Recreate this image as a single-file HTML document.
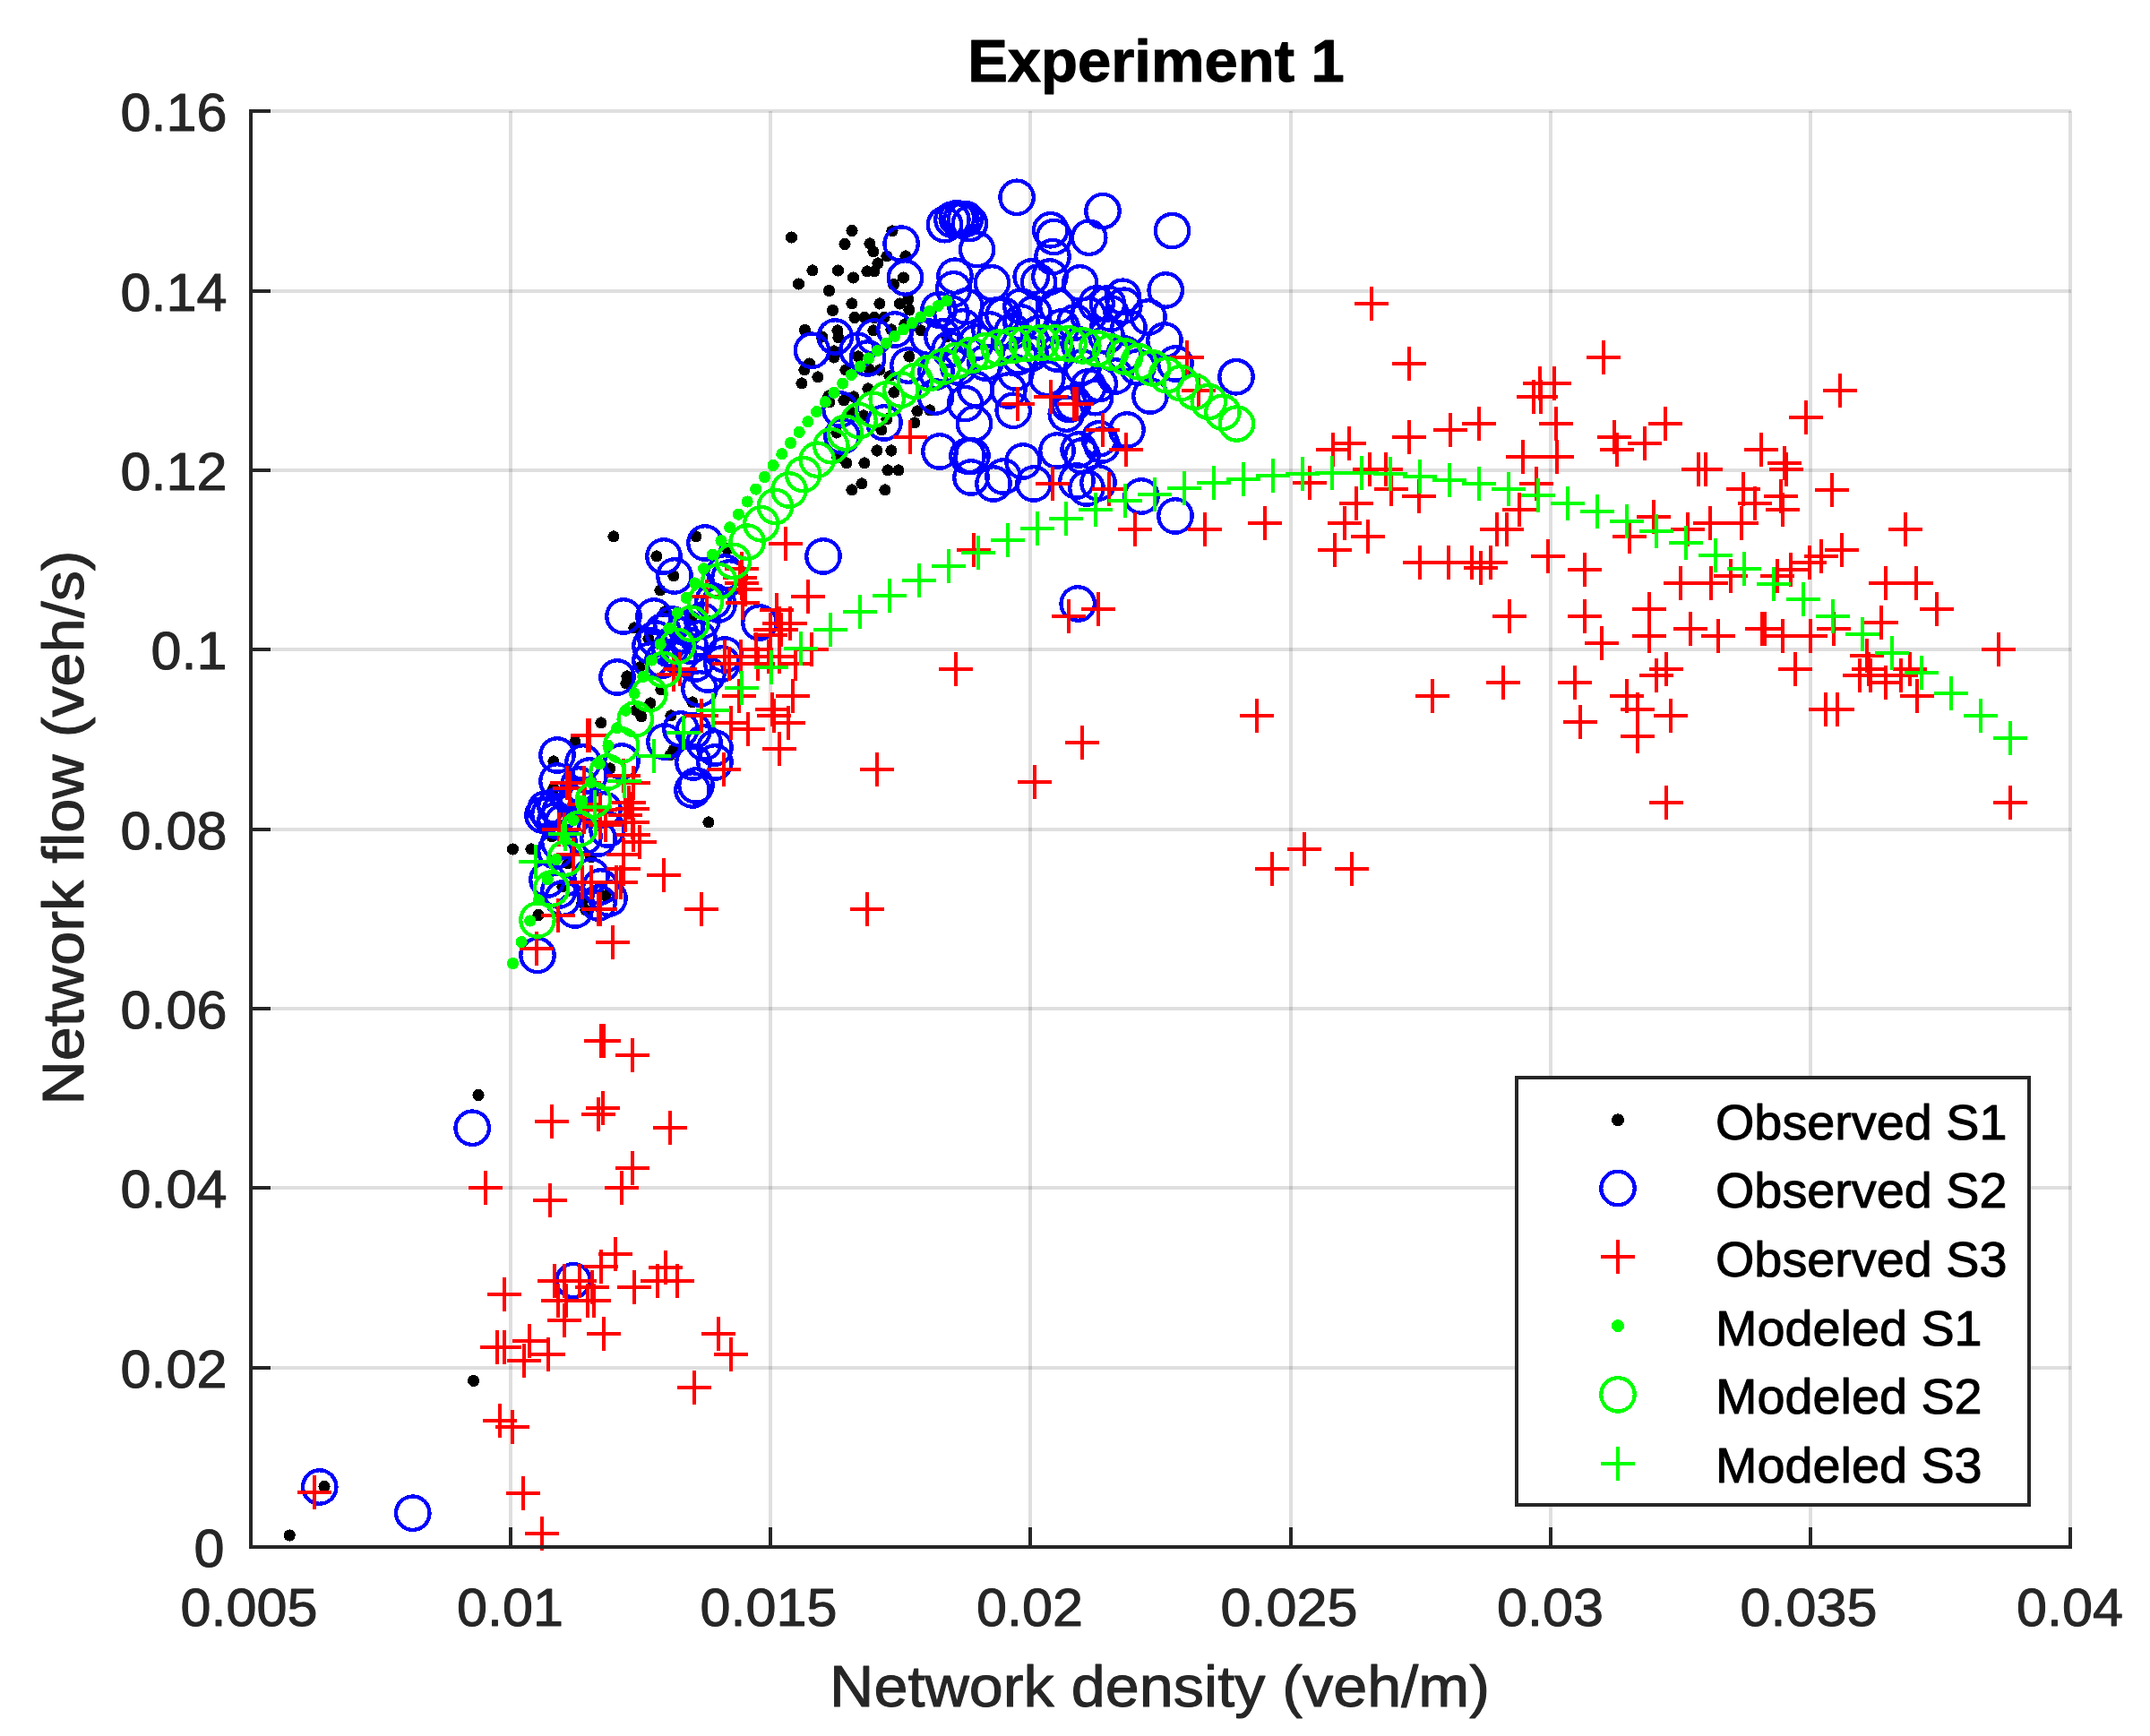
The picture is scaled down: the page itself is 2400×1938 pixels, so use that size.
<!DOCTYPE html><html><head><meta charset="utf-8"><title>Experiment 1</title>
<style>html,body{margin:0;padding:0;background:#fff}svg{display:block}text{font-family:"Liberation Sans",Arial,Helvetica,sans-serif;stroke-width:1px;paint-order:stroke fill;stroke-linejoin:round}</style></head><body>
<svg width="2400" height="1938" viewBox="0 0 2400 1938">
<rect width="2400" height="1938" fill="#fff"/>
<g shape-rendering="crispEdges" fill="none" stroke="#262626" stroke-opacity="0.15" stroke-width="4">
<path d="M570 124V1727M860 124V1727M1150 124V1727M1441 124V1727M1731 124V1727M2021 124V1727M2311 124V1727"/><path d="M280 1527H2312M280 1326H2312M280 1126H2312M280 926H2312M280 725H2312M280 525H2312M280 325H2312M280 124H2312"/>
</g>
<g fill="none" stroke-width="4" shape-rendering="crispEdges">
<path d="M316.6 1714a6.6 6.6 0 1 0 13.2 0a6.6 6.6 0 1 0 -13.2 0M355.4 1659.6a6.6 6.6 0 1 0 13.2 0a6.6 6.6 0 1 0 -13.2 0M527.4 1222.4a6.6 6.6 0 1 0 13.2 0a6.6 6.6 0 1 0 -13.2 0M522 1541.4a6.6 6.6 0 1 0 13.2 0a6.6 6.6 0 1 0 -13.2 0M565.8 948a6.6 6.6 0 1 0 13.2 0a6.6 6.6 0 1 0 -13.2 0M586.4 948a6.6 6.6 0 1 0 13.2 0a6.6 6.6 0 1 0 -13.2 0M664.4 807a6.6 6.6 0 1 0 13.2 0a6.6 6.6 0 1 0 -13.2 0M635.4 828a6.6 6.6 0 1 0 13.2 0a6.6 6.6 0 1 0 -13.2 0M611.4 850a6.6 6.6 0 1 0 13.2 0a6.6 6.6 0 1 0 -13.2 0M674.4 858a6.6 6.6 0 1 0 13.2 0a6.6 6.6 0 1 0 -13.2 0M719.4 785a6.6 6.6 0 1 0 13.2 0a6.6 6.6 0 1 0 -13.2 0M709.4 800a6.6 6.6 0 1 0 13.2 0a6.6 6.6 0 1 0 -13.2 0M703.4 793a6.6 6.6 0 1 0 13.2 0a6.6 6.6 0 1 0 -13.2 0M692.4 763a6.6 6.6 0 1 0 13.2 0a6.6 6.6 0 1 0 -13.2 0M731.4 770a6.6 6.6 0 1 0 13.2 0a6.6 6.6 0 1 0 -13.2 0M766.4 784a6.6 6.6 0 1 0 13.2 0a6.6 6.6 0 1 0 -13.2 0M742.4 799a6.6 6.6 0 1 0 13.2 0a6.6 6.6 0 1 0 -13.2 0M741.4 843a6.6 6.6 0 1 0 13.2 0a6.6 6.6 0 1 0 -13.2 0M745.4 837a6.6 6.6 0 1 0 13.2 0a6.6 6.6 0 1 0 -13.2 0M784.4 918a6.6 6.6 0 1 0 13.2 0a6.6 6.6 0 1 0 -13.2 0M594.4 1021.6a6.6 6.6 0 1 0 13.2 0a6.6 6.6 0 1 0 -13.2 0M621.4 990a6.6 6.6 0 1 0 13.2 0a6.6 6.6 0 1 0 -13.2 0M643.4 1008a6.6 6.6 0 1 0 13.2 0a6.6 6.6 0 1 0 -13.2 0M647.4 1016a6.6 6.6 0 1 0 13.2 0a6.6 6.6 0 1 0 -13.2 0M669.4 1000a6.6 6.6 0 1 0 13.2 0a6.6 6.6 0 1 0 -13.2 0M611.4 880a6.6 6.6 0 1 0 13.2 0a6.6 6.6 0 1 0 -13.2 0M609.4 934a6.6 6.6 0 1 0 13.2 0a6.6 6.6 0 1 0 -13.2 0M627.4 964a6.6 6.6 0 1 0 13.2 0a6.6 6.6 0 1 0 -13.2 0M653.4 957a6.6 6.6 0 1 0 13.2 0a6.6 6.6 0 1 0 -13.2 0M678.4 599a6.6 6.6 0 1 0 13.2 0a6.6 6.6 0 1 0 -13.2 0M726.4 621a6.6 6.6 0 1 0 13.2 0a6.6 6.6 0 1 0 -13.2 0M770.4 599a6.6 6.6 0 1 0 13.2 0a6.6 6.6 0 1 0 -13.2 0M745.4 643a6.6 6.6 0 1 0 13.2 0a6.6 6.6 0 1 0 -13.2 0M730.4 659a6.6 6.6 0 1 0 13.2 0a6.6 6.6 0 1 0 -13.2 0M805.4 613a6.6 6.6 0 1 0 13.2 0a6.6 6.6 0 1 0 -13.2 0M888.4 428a6.6 6.6 0 1 0 13.2 0a6.6 6.6 0 1 0 -13.2 0M906.4 421a6.6 6.6 0 1 0 13.2 0a6.6 6.6 0 1 0 -13.2 0M891.4 413a6.6 6.6 0 1 0 13.2 0a6.6 6.6 0 1 0 -13.2 0M919.4 449a6.6 6.6 0 1 0 13.2 0a6.6 6.6 0 1 0 -13.2 0M938.4 517a6.6 6.6 0 1 0 13.2 0a6.6 6.6 0 1 0 -13.2 0M958.4 517a6.6 6.6 0 1 0 13.2 0a6.6 6.6 0 1 0 -13.2 0M944.4 547a6.6 6.6 0 1 0 13.2 0a6.6 6.6 0 1 0 -13.2 0M955.4 540a6.6 6.6 0 1 0 13.2 0a6.6 6.6 0 1 0 -13.2 0M927.4 483a6.6 6.6 0 1 0 13.2 0a6.6 6.6 0 1 0 -13.2 0M928.4 511a6.6 6.6 0 1 0 13.2 0a6.6 6.6 0 1 0 -13.2 0M701.4 701a6.6 6.6 0 1 0 13.2 0a6.6 6.6 0 1 0 -13.2 0M717.4 713a6.6 6.6 0 1 0 13.2 0a6.6 6.6 0 1 0 -13.2 0M735.4 683a6.6 6.6 0 1 0 13.2 0a6.6 6.6 0 1 0 -13.2 0M707.4 745a6.6 6.6 0 1 0 13.2 0a6.6 6.6 0 1 0 -13.2 0M693.4 755a6.6 6.6 0 1 0 13.2 0a6.6 6.6 0 1 0 -13.2 0M765.4 689a6.6 6.6 0 1 0 13.2 0a6.6 6.6 0 1 0 -13.2 0M972.4 503a6.6 6.6 0 1 0 13.2 0a6.6 6.6 0 1 0 -13.2 0M988.4 503a6.6 6.6 0 1 0 13.2 0a6.6 6.6 0 1 0 -13.2 0M984.4 525a6.6 6.6 0 1 0 13.2 0a6.6 6.6 0 1 0 -13.2 0M996.4 525a6.6 6.6 0 1 0 13.2 0a6.6 6.6 0 1 0 -13.2 0M981.4 547a6.6 6.6 0 1 0 13.2 0a6.6 6.6 0 1 0 -13.2 0M900.4 302a6.6 6.6 0 1 0 13.2 0a6.6 6.6 0 1 0 -13.2 0M928.9 302a6.6 6.6 0 1 0 13.2 0a6.6 6.6 0 1 0 -13.2 0M945.9 310a6.6 6.6 0 1 0 13.2 0a6.6 6.6 0 1 0 -13.2 0M961.4 303a6.6 6.6 0 1 0 13.2 0a6.6 6.6 0 1 0 -13.2 0M969.4 303a6.6 6.6 0 1 0 13.2 0a6.6 6.6 0 1 0 -13.2 0M884.9 317a6.6 6.6 0 1 0 13.2 0a6.6 6.6 0 1 0 -13.2 0M918.9 324.5a6.6 6.6 0 1 0 13.2 0a6.6 6.6 0 1 0 -13.2 0M1001.9 310a6.6 6.6 0 1 0 13.2 0a6.6 6.6 0 1 0 -13.2 0M990.9 317.5a6.6 6.6 0 1 0 13.2 0a6.6 6.6 0 1 0 -13.2 0M944.4 339a6.6 6.6 0 1 0 13.2 0a6.6 6.6 0 1 0 -13.2 0M975.4 339a6.6 6.6 0 1 0 13.2 0a6.6 6.6 0 1 0 -13.2 0M997.9 339a6.6 6.6 0 1 0 13.2 0a6.6 6.6 0 1 0 -13.2 0M1007.4 334a6.6 6.6 0 1 0 13.2 0a6.6 6.6 0 1 0 -13.2 0M1008.4 346a6.6 6.6 0 1 0 13.2 0a6.6 6.6 0 1 0 -13.2 0M922.9 346.5a6.6 6.6 0 1 0 13.2 0a6.6 6.6 0 1 0 -13.2 0M947.4 354.5a6.6 6.6 0 1 0 13.2 0a6.6 6.6 0 1 0 -13.2 0M958.4 354.5a6.6 6.6 0 1 0 13.2 0a6.6 6.6 0 1 0 -13.2 0M969.4 354.5a6.6 6.6 0 1 0 13.2 0a6.6 6.6 0 1 0 -13.2 0M980.4 354.5a6.6 6.6 0 1 0 13.2 0a6.6 6.6 0 1 0 -13.2 0M891.9 368.5a6.6 6.6 0 1 0 13.2 0a6.6 6.6 0 1 0 -13.2 0M910.9 376a6.6 6.6 0 1 0 13.2 0a6.6 6.6 0 1 0 -13.2 0M928.4 369a6.6 6.6 0 1 0 13.2 0a6.6 6.6 0 1 0 -13.2 0M929.4 377a6.6 6.6 0 1 0 13.2 0a6.6 6.6 0 1 0 -13.2 0M968.4 369a6.6 6.6 0 1 0 13.2 0a6.6 6.6 0 1 0 -13.2 0M988.4 368a6.6 6.6 0 1 0 13.2 0a6.6 6.6 0 1 0 -13.2 0M1003.4 362a6.6 6.6 0 1 0 13.2 0a6.6 6.6 0 1 0 -13.2 0M1021.4 369a6.6 6.6 0 1 0 13.2 0a6.6 6.6 0 1 0 -13.2 0M1050.4 376a6.6 6.6 0 1 0 13.2 0a6.6 6.6 0 1 0 -13.2 0M924.4 392a6.6 6.6 0 1 0 13.2 0a6.6 6.6 0 1 0 -13.2 0M924.4 399a6.6 6.6 0 1 0 13.2 0a6.6 6.6 0 1 0 -13.2 0M951.4 398a6.6 6.6 0 1 0 13.2 0a6.6 6.6 0 1 0 -13.2 0M896.9 406a6.6 6.6 0 1 0 13.2 0a6.6 6.6 0 1 0 -13.2 0M937.4 413a6.6 6.6 0 1 0 13.2 0a6.6 6.6 0 1 0 -13.2 0M963.4 412a6.6 6.6 0 1 0 13.2 0a6.6 6.6 0 1 0 -13.2 0M975.4 413a6.6 6.6 0 1 0 13.2 0a6.6 6.6 0 1 0 -13.2 0M986.4 420a6.6 6.6 0 1 0 13.2 0a6.6 6.6 0 1 0 -13.2 0M1008.4 398a6.6 6.6 0 1 0 13.2 0a6.6 6.6 0 1 0 -13.2 0M962.4 434a6.6 6.6 0 1 0 13.2 0a6.6 6.6 0 1 0 -13.2 0M991.4 438a6.6 6.6 0 1 0 13.2 0a6.6 6.6 0 1 0 -13.2 0M918.4 442a6.6 6.6 0 1 0 13.2 0a6.6 6.6 0 1 0 -13.2 0M946.4 443a6.6 6.6 0 1 0 13.2 0a6.6 6.6 0 1 0 -13.2 0M935.4 447a6.6 6.6 0 1 0 13.2 0a6.6 6.6 0 1 0 -13.2 0M1031.4 458a6.6 6.6 0 1 0 13.2 0a6.6 6.6 0 1 0 -13.2 0M1017.4 459a6.6 6.6 0 1 0 13.2 0a6.6 6.6 0 1 0 -13.2 0M1014.4 472a6.6 6.6 0 1 0 13.2 0a6.6 6.6 0 1 0 -13.2 0M943.4 460a6.6 6.6 0 1 0 13.2 0a6.6 6.6 0 1 0 -13.2 0M957.4 464a6.6 6.6 0 1 0 13.2 0a6.6 6.6 0 1 0 -13.2 0M983.4 468a6.6 6.6 0 1 0 13.2 0a6.6 6.6 0 1 0 -13.2 0M877 265a6.6 6.6 0 1 0 13.2 0a6.6 6.6 0 1 0 -13.2 0M944.4 257.6a6.6 6.6 0 1 0 13.2 0a6.6 6.6 0 1 0 -13.2 0M989.4 258a6.6 6.6 0 1 0 13.2 0a6.6 6.6 0 1 0 -13.2 0M936.4 272.4a6.6 6.6 0 1 0 13.2 0a6.6 6.6 0 1 0 -13.2 0M964.4 272a6.6 6.6 0 1 0 13.2 0a6.6 6.6 0 1 0 -13.2 0M968.4 281a6.6 6.6 0 1 0 13.2 0a6.6 6.6 0 1 0 -13.2 0M983.4 286a6.6 6.6 0 1 0 13.2 0a6.6 6.6 0 1 0 -13.2 0M1004.4 286a6.6 6.6 0 1 0 13.2 0a6.6 6.6 0 1 0 -13.2 0M973.4 294a6.6 6.6 0 1 0 13.2 0a6.6 6.6 0 1 0 -13.2 0M977.4 480a6.6 6.6 0 1 0 13.2 0a6.6 6.6 0 1 0 -13.2 0" fill="#000" stroke="none"/>
<path d="M338.1 1660a18.7 18.7 0 1 0 37.4 0a18.7 18.7 0 1 0 -37.4 0M442.1 1689.2a18.7 18.7 0 1 0 37.4 0a18.7 18.7 0 1 0 -37.4 0M508.5 1259.2a18.7 18.7 0 1 0 37.4 0a18.7 18.7 0 1 0 -37.4 0M581.3 1066.4a18.7 18.7 0 1 0 37.4 0a18.7 18.7 0 1 0 -37.4 0M621.3 1429.6a18.7 18.7 0 1 0 37.4 0a18.7 18.7 0 1 0 -37.4 0M670.3 756a18.7 18.7 0 1 0 37.4 0a18.7 18.7 0 1 0 -37.4 0M762.3 769a18.7 18.7 0 1 0 37.4 0a18.7 18.7 0 1 0 -37.4 0M603.3 843a18.7 18.7 0 1 0 37.4 0a18.7 18.7 0 1 0 -37.4 0M632.3 851a18.7 18.7 0 1 0 37.4 0a18.7 18.7 0 1 0 -37.4 0M675.3 850a18.7 18.7 0 1 0 37.4 0a18.7 18.7 0 1 0 -37.4 0M603.3 872a18.7 18.7 0 1 0 37.4 0a18.7 18.7 0 1 0 -37.4 0M639.3 866a18.7 18.7 0 1 0 37.4 0a18.7 18.7 0 1 0 -37.4 0M627.3 876a18.7 18.7 0 1 0 37.4 0a18.7 18.7 0 1 0 -37.4 0M723.3 828a18.7 18.7 0 1 0 37.4 0a18.7 18.7 0 1 0 -37.4 0M741.3 814a18.7 18.7 0 1 0 37.4 0a18.7 18.7 0 1 0 -37.4 0M755.3 816a18.7 18.7 0 1 0 37.4 0a18.7 18.7 0 1 0 -37.4 0M779.3 835a18.7 18.7 0 1 0 37.4 0a18.7 18.7 0 1 0 -37.4 0M767.3 829a18.7 18.7 0 1 0 37.4 0a18.7 18.7 0 1 0 -37.4 0M779.3 851a18.7 18.7 0 1 0 37.4 0a18.7 18.7 0 1 0 -37.4 0M755.3 851a18.7 18.7 0 1 0 37.4 0a18.7 18.7 0 1 0 -37.4 0M758.3 877a18.7 18.7 0 1 0 37.4 0a18.7 18.7 0 1 0 -37.4 0M754.3 882a18.7 18.7 0 1 0 37.4 0a18.7 18.7 0 1 0 -37.4 0M590.3 903a18.7 18.7 0 1 0 37.4 0a18.7 18.7 0 1 0 -37.4 0M587.3 910a18.7 18.7 0 1 0 37.4 0a18.7 18.7 0 1 0 -37.4 0M594.3 909a18.7 18.7 0 1 0 37.4 0a18.7 18.7 0 1 0 -37.4 0M601.3 900a18.7 18.7 0 1 0 37.4 0a18.7 18.7 0 1 0 -37.4 0M606.3 906a18.7 18.7 0 1 0 37.4 0a18.7 18.7 0 1 0 -37.4 0M601.3 916a18.7 18.7 0 1 0 37.4 0a18.7 18.7 0 1 0 -37.4 0M609.3 918a18.7 18.7 0 1 0 37.4 0a18.7 18.7 0 1 0 -37.4 0M625.3 890a18.7 18.7 0 1 0 37.4 0a18.7 18.7 0 1 0 -37.4 0M655.3 904a18.7 18.7 0 1 0 37.4 0a18.7 18.7 0 1 0 -37.4 0M659.3 926a18.7 18.7 0 1 0 37.4 0a18.7 18.7 0 1 0 -37.4 0M649.3 936a18.7 18.7 0 1 0 37.4 0a18.7 18.7 0 1 0 -37.4 0M633.3 934a18.7 18.7 0 1 0 37.4 0a18.7 18.7 0 1 0 -37.4 0M605.3 940a18.7 18.7 0 1 0 37.4 0a18.7 18.7 0 1 0 -37.4 0M601.3 950a18.7 18.7 0 1 0 37.4 0a18.7 18.7 0 1 0 -37.4 0M592.3 982a18.7 18.7 0 1 0 37.4 0a18.7 18.7 0 1 0 -37.4 0M605.3 994a18.7 18.7 0 1 0 37.4 0a18.7 18.7 0 1 0 -37.4 0M609.3 1003a18.7 18.7 0 1 0 37.4 0a18.7 18.7 0 1 0 -37.4 0M641.3 978a18.7 18.7 0 1 0 37.4 0a18.7 18.7 0 1 0 -37.4 0M651.3 990a18.7 18.7 0 1 0 37.4 0a18.7 18.7 0 1 0 -37.4 0M661.3 1003a18.7 18.7 0 1 0 37.4 0a18.7 18.7 0 1 0 -37.4 0M649.3 1008a18.7 18.7 0 1 0 37.4 0a18.7 18.7 0 1 0 -37.4 0M623.3 1016a18.7 18.7 0 1 0 37.4 0a18.7 18.7 0 1 0 -37.4 0M722.3 621a18.7 18.7 0 1 0 37.4 0a18.7 18.7 0 1 0 -37.4 0M768.3 606a18.7 18.7 0 1 0 37.4 0a18.7 18.7 0 1 0 -37.4 0M734.3 643a18.7 18.7 0 1 0 37.4 0a18.7 18.7 0 1 0 -37.4 0M900.3 621a18.7 18.7 0 1 0 37.4 0a18.7 18.7 0 1 0 -37.4 0M677.3 688a18.7 18.7 0 1 0 37.4 0a18.7 18.7 0 1 0 -37.4 0M711.3 688a18.7 18.7 0 1 0 37.4 0a18.7 18.7 0 1 0 -37.4 0M829.3 695a18.7 18.7 0 1 0 37.4 0a18.7 18.7 0 1 0 -37.4 0M790.3 639a18.7 18.7 0 1 0 37.4 0a18.7 18.7 0 1 0 -37.4 0M795.3 645a18.7 18.7 0 1 0 37.4 0a18.7 18.7 0 1 0 -37.4 0M777.3 671a18.7 18.7 0 1 0 37.4 0a18.7 18.7 0 1 0 -37.4 0M783.3 675a18.7 18.7 0 1 0 37.4 0a18.7 18.7 0 1 0 -37.4 0M790.3 731a18.7 18.7 0 1 0 37.4 0a18.7 18.7 0 1 0 -37.4 0M787.3 741a18.7 18.7 0 1 0 37.4 0a18.7 18.7 0 1 0 -37.4 0M919.3 457a18.7 18.7 0 1 0 37.4 0a18.7 18.7 0 1 0 -37.4 0M921.3 487a18.7 18.7 0 1 0 37.4 0a18.7 18.7 0 1 0 -37.4 0M707.3 721a18.7 18.7 0 1 0 37.4 0a18.7 18.7 0 1 0 -37.4 0M713.3 713a18.7 18.7 0 1 0 37.4 0a18.7 18.7 0 1 0 -37.4 0M721.3 705a18.7 18.7 0 1 0 37.4 0a18.7 18.7 0 1 0 -37.4 0M731.3 697a18.7 18.7 0 1 0 37.4 0a18.7 18.7 0 1 0 -37.4 0M741.3 709a18.7 18.7 0 1 0 37.4 0a18.7 18.7 0 1 0 -37.4 0M747.3 701a18.7 18.7 0 1 0 37.4 0a18.7 18.7 0 1 0 -37.4 0M729.3 725a18.7 18.7 0 1 0 37.4 0a18.7 18.7 0 1 0 -37.4 0M739.3 733a18.7 18.7 0 1 0 37.4 0a18.7 18.7 0 1 0 -37.4 0M751.3 721a18.7 18.7 0 1 0 37.4 0a18.7 18.7 0 1 0 -37.4 0M761.3 713a18.7 18.7 0 1 0 37.4 0a18.7 18.7 0 1 0 -37.4 0M765.3 693a18.7 18.7 0 1 0 37.4 0a18.7 18.7 0 1 0 -37.4 0M721.3 737a18.7 18.7 0 1 0 37.4 0a18.7 18.7 0 1 0 -37.4 0M707.3 737a18.7 18.7 0 1 0 37.4 0a18.7 18.7 0 1 0 -37.4 0M757.3 741a18.7 18.7 0 1 0 37.4 0a18.7 18.7 0 1 0 -37.4 0M771.3 753a18.7 18.7 0 1 0 37.4 0a18.7 18.7 0 1 0 -37.4 0M1282.5 324a18.7 18.7 0 1 0 37.4 0a18.7 18.7 0 1 0 -37.4 0M1361.3 420.8a18.7 18.7 0 1 0 37.4 0a18.7 18.7 0 1 0 -37.4 0M1293.3 576a18.7 18.7 0 1 0 37.4 0a18.7 18.7 0 1 0 -37.4 0M1255.3 554a18.7 18.7 0 1 0 37.4 0a18.7 18.7 0 1 0 -37.4 0M1184.5 674a18.7 18.7 0 1 0 37.4 0a18.7 18.7 0 1 0 -37.4 0M1293.3 406a18.7 18.7 0 1 0 37.4 0a18.7 18.7 0 1 0 -37.4 0M1265.3 442a18.7 18.7 0 1 0 37.4 0a18.7 18.7 0 1 0 -37.4 0M1239.3 480a18.7 18.7 0 1 0 37.4 0a18.7 18.7 0 1 0 -37.4 0M1263.3 354a18.7 18.7 0 1 0 37.4 0a18.7 18.7 0 1 0 -37.4 0M1030.3 504a18.7 18.7 0 1 0 37.4 0a18.7 18.7 0 1 0 -37.4 0M1061.3 509a18.7 18.7 0 1 0 37.4 0a18.7 18.7 0 1 0 -37.4 0M1066.3 509a18.7 18.7 0 1 0 37.4 0a18.7 18.7 0 1 0 -37.4 0M1065.3 533a18.7 18.7 0 1 0 37.4 0a18.7 18.7 0 1 0 -37.4 0M1090.3 540a18.7 18.7 0 1 0 37.4 0a18.7 18.7 0 1 0 -37.4 0M1101.3 532a18.7 18.7 0 1 0 37.4 0a18.7 18.7 0 1 0 -37.4 0M1123.3 515a18.7 18.7 0 1 0 37.4 0a18.7 18.7 0 1 0 -37.4 0M1135.3 540a18.7 18.7 0 1 0 37.4 0a18.7 18.7 0 1 0 -37.4 0M1161.3 503a18.7 18.7 0 1 0 37.4 0a18.7 18.7 0 1 0 -37.4 0M1183.3 537a18.7 18.7 0 1 0 37.4 0a18.7 18.7 0 1 0 -37.4 0M1194.3 545a18.7 18.7 0 1 0 37.4 0a18.7 18.7 0 1 0 -37.4 0M1207.3 539a18.7 18.7 0 1 0 37.4 0a18.7 18.7 0 1 0 -37.4 0M1189.3 509a18.7 18.7 0 1 0 37.4 0a18.7 18.7 0 1 0 -37.4 0M1211.3 497a18.7 18.7 0 1 0 37.4 0a18.7 18.7 0 1 0 -37.4 0M887.8 391.2a18.7 18.7 0 1 0 37.4 0a18.7 18.7 0 1 0 -37.4 0M913.6 376a18.7 18.7 0 1 0 37.4 0a18.7 18.7 0 1 0 -37.4 0M938.3 391.2a18.7 18.7 0 1 0 37.4 0a18.7 18.7 0 1 0 -37.4 0M957.3 376a18.7 18.7 0 1 0 37.4 0a18.7 18.7 0 1 0 -37.4 0M980.3 368a18.7 18.7 0 1 0 37.4 0a18.7 18.7 0 1 0 -37.4 0M991.8 310a18.7 18.7 0 1 0 37.4 0a18.7 18.7 0 1 0 -37.4 0M949.8 400a18.7 18.7 0 1 0 37.4 0a18.7 18.7 0 1 0 -37.4 0M1116.4 220.3a18.7 18.7 0 1 0 37.4 0a18.7 18.7 0 1 0 -37.4 0M1212.3 235.6a18.7 18.7 0 1 0 37.4 0a18.7 18.7 0 1 0 -37.4 0M1289.8 257.6a18.7 18.7 0 1 0 37.4 0a18.7 18.7 0 1 0 -37.4 0M1035.8 250.7a18.7 18.7 0 1 0 37.4 0a18.7 18.7 0 1 0 -37.4 0M1044.2 245.3a18.7 18.7 0 1 0 37.4 0a18.7 18.7 0 1 0 -37.4 0M1049.6 243.7a18.7 18.7 0 1 0 37.4 0a18.7 18.7 0 1 0 -37.4 0M1054.2 244.5a18.7 18.7 0 1 0 37.4 0a18.7 18.7 0 1 0 -37.4 0M1058.8 244.5a18.7 18.7 0 1 0 37.4 0a18.7 18.7 0 1 0 -37.4 0M1063.7 249.4a18.7 18.7 0 1 0 37.4 0a18.7 18.7 0 1 0 -37.4 0M1071.9 278.6a18.7 18.7 0 1 0 37.4 0a18.7 18.7 0 1 0 -37.4 0M1154 256.8a18.7 18.7 0 1 0 37.4 0a18.7 18.7 0 1 0 -37.4 0M1157.8 264.5a18.7 18.7 0 1 0 37.4 0a18.7 18.7 0 1 0 -37.4 0M1197 265.2a18.7 18.7 0 1 0 37.4 0a18.7 18.7 0 1 0 -37.4 0M1156.3 286.7a18.7 18.7 0 1 0 37.4 0a18.7 18.7 0 1 0 -37.4 0M987.4 272.1a18.7 18.7 0 1 0 37.4 0a18.7 18.7 0 1 0 -37.4 0M1047.3 308.2a18.7 18.7 0 1 0 37.4 0a18.7 18.7 0 1 0 -37.4 0M1045.8 322.8a18.7 18.7 0 1 0 37.4 0a18.7 18.7 0 1 0 -37.4 0M1088.7 315.9a18.7 18.7 0 1 0 37.4 0a18.7 18.7 0 1 0 -37.4 0M1132.5 309a18.7 18.7 0 1 0 37.4 0a18.7 18.7 0 1 0 -37.4 0M1140.9 315a18.7 18.7 0 1 0 37.4 0a18.7 18.7 0 1 0 -37.4 0M1153.2 309a18.7 18.7 0 1 0 37.4 0a18.7 18.7 0 1 0 -37.4 0M1187 315.9a18.7 18.7 0 1 0 37.4 0a18.7 18.7 0 1 0 -37.4 0M1205.4 338.9a18.7 18.7 0 1 0 37.4 0a18.7 18.7 0 1 0 -37.4 0M1217.7 338.9a18.7 18.7 0 1 0 37.4 0a18.7 18.7 0 1 0 -37.4 0M1234.6 331.2a18.7 18.7 0 1 0 37.4 0a18.7 18.7 0 1 0 -37.4 0M1236.1 341.2a18.7 18.7 0 1 0 37.4 0a18.7 18.7 0 1 0 -37.4 0M1029.3 346a18.7 18.7 0 1 0 37.4 0a18.7 18.7 0 1 0 -37.4 0M1043.3 350a18.7 18.7 0 1 0 37.4 0a18.7 18.7 0 1 0 -37.4 0M1059.3 342a18.7 18.7 0 1 0 37.4 0a18.7 18.7 0 1 0 -37.4 0M1101.3 352a18.7 18.7 0 1 0 37.4 0a18.7 18.7 0 1 0 -37.4 0M1121.3 342a18.7 18.7 0 1 0 37.4 0a18.7 18.7 0 1 0 -37.4 0M1135.3 350a18.7 18.7 0 1 0 37.4 0a18.7 18.7 0 1 0 -37.4 0M1161.3 342a18.7 18.7 0 1 0 37.4 0a18.7 18.7 0 1 0 -37.4 0M1181.3 360a18.7 18.7 0 1 0 37.4 0a18.7 18.7 0 1 0 -37.4 0M1221.3 350a18.7 18.7 0 1 0 37.4 0a18.7 18.7 0 1 0 -37.4 0M1241.3 366a18.7 18.7 0 1 0 37.4 0a18.7 18.7 0 1 0 -37.4 0M1017.3 376a18.7 18.7 0 1 0 37.4 0a18.7 18.7 0 1 0 -37.4 0M1033.3 376a18.7 18.7 0 1 0 37.4 0a18.7 18.7 0 1 0 -37.4 0M1071.3 382a18.7 18.7 0 1 0 37.4 0a18.7 18.7 0 1 0 -37.4 0M995.3 408a18.7 18.7 0 1 0 37.4 0a18.7 18.7 0 1 0 -37.4 0M1115.3 416a18.7 18.7 0 1 0 37.4 0a18.7 18.7 0 1 0 -37.4 0M1189.3 410a18.7 18.7 0 1 0 37.4 0a18.7 18.7 0 1 0 -37.4 0M1094.3 352a18.7 18.7 0 1 0 37.4 0a18.7 18.7 0 1 0 -37.4 0M1119.3 398a18.7 18.7 0 1 0 37.4 0a18.7 18.7 0 1 0 -37.4 0M1196.3 352a18.7 18.7 0 1 0 37.4 0a18.7 18.7 0 1 0 -37.4 0M1166.3 365a18.7 18.7 0 1 0 37.4 0a18.7 18.7 0 1 0 -37.4 0M1141.3 372a18.7 18.7 0 1 0 37.4 0a18.7 18.7 0 1 0 -37.4 0M1111.3 370a18.7 18.7 0 1 0 37.4 0a18.7 18.7 0 1 0 -37.4 0M1086.3 368a18.7 18.7 0 1 0 37.4 0a18.7 18.7 0 1 0 -37.4 0M1056.3 365a18.7 18.7 0 1 0 37.4 0a18.7 18.7 0 1 0 -37.4 0M1041.3 390a18.7 18.7 0 1 0 37.4 0a18.7 18.7 0 1 0 -37.4 0M1026.3 415a18.7 18.7 0 1 0 37.4 0a18.7 18.7 0 1 0 -37.4 0M1051.3 410a18.7 18.7 0 1 0 37.4 0a18.7 18.7 0 1 0 -37.4 0M1081.3 405a18.7 18.7 0 1 0 37.4 0a18.7 18.7 0 1 0 -37.4 0M1131.3 395a18.7 18.7 0 1 0 37.4 0a18.7 18.7 0 1 0 -37.4 0M1161.3 395a18.7 18.7 0 1 0 37.4 0a18.7 18.7 0 1 0 -37.4 0M1186.3 385a18.7 18.7 0 1 0 37.4 0a18.7 18.7 0 1 0 -37.4 0M1216.3 375a18.7 18.7 0 1 0 37.4 0a18.7 18.7 0 1 0 -37.4 0M1236.3 395a18.7 18.7 0 1 0 37.4 0a18.7 18.7 0 1 0 -37.4 0M1251.3 410a18.7 18.7 0 1 0 37.4 0a18.7 18.7 0 1 0 -37.4 0M1226.3 420a18.7 18.7 0 1 0 37.4 0a18.7 18.7 0 1 0 -37.4 0M1121.3 360a18.7 18.7 0 1 0 37.4 0a18.7 18.7 0 1 0 -37.4 0M1281.3 380a18.7 18.7 0 1 0 37.4 0a18.7 18.7 0 1 0 -37.4 0M1068.8 472.9a18.7 18.7 0 1 0 37.4 0a18.7 18.7 0 1 0 -37.4 0M1058.8 450.6a18.7 18.7 0 1 0 37.4 0a18.7 18.7 0 1 0 -37.4 0M1070.3 434.5a18.7 18.7 0 1 0 37.4 0a18.7 18.7 0 1 0 -37.4 0M1025.8 443a18.7 18.7 0 1 0 37.4 0a18.7 18.7 0 1 0 -37.4 0M1107.2 436a18.7 18.7 0 1 0 37.4 0a18.7 18.7 0 1 0 -37.4 0M1112.5 458.3a18.7 18.7 0 1 0 37.4 0a18.7 18.7 0 1 0 -37.4 0M1150.1 422.2a18.7 18.7 0 1 0 37.4 0a18.7 18.7 0 1 0 -37.4 0M1174.7 451.4a18.7 18.7 0 1 0 37.4 0a18.7 18.7 0 1 0 -37.4 0M1171.6 462.1a18.7 18.7 0 1 0 37.4 0a18.7 18.7 0 1 0 -37.4 0M1179.3 449.9a18.7 18.7 0 1 0 37.4 0a18.7 18.7 0 1 0 -37.4 0M1203.9 443.7a18.7 18.7 0 1 0 37.4 0a18.7 18.7 0 1 0 -37.4 0M1196.2 432a18.7 18.7 0 1 0 37.4 0a18.7 18.7 0 1 0 -37.4 0M1208.5 428.4a18.7 18.7 0 1 0 37.4 0a18.7 18.7 0 1 0 -37.4 0M1208.5 489.8a18.7 18.7 0 1 0 37.4 0a18.7 18.7 0 1 0 -37.4 0M1185.4 502a18.7 18.7 0 1 0 37.4 0a18.7 18.7 0 1 0 -37.4 0M968.3 472a18.7 18.7 0 1 0 37.4 0a18.7 18.7 0 1 0 -37.4 0" stroke="#00f" stroke-width="4.3"/>
<path d="M665 1052h38M684 1033v38M579.8 1058.8h38M598.8 1039.8v38M651.8 1162.4h38M670.8 1143.4v38M654.6 1162.4h38M673.6 1143.4v38M686.6 1177.6h38M705.6 1158.6v38M597.4 1251.6h38M616.4 1232.6v38M653.8 1236.8h38M672.8 1217.8v38M648.6 1244.4h38M667.6 1225.4v38M729 1258.8h38M748 1239.8v38M686.6 1303.6h38M705.6 1284.6v38M675 1325.6h38M694 1306.6v38M523 1325.6h38M542 1306.6v38M594.6 1340.4h38M613.6 1321.4v38M331.8 1666.4h38M350.8 1647.4v38M544 1445h38M563 1426v38M600 1429.6h38M619 1410.6v38M611 1429.6h38M630 1410.6v38M628 1429.6h38M647 1410.6v38M604 1452h38M623 1433v38M613 1452h38M632 1433v38M637 1452h38M656 1433v38M644 1452h38M663 1433v38M642 1437h38M661 1418v38M652 1414.4h38M671 1395.4v38M668 1400h38M687 1381v38M611 1474.4h38M630 1455.4v38M689 1437h38M708 1418v38M715 1429.6h38M734 1410.6v38M724 1414.8h38M743 1395.8v38M737 1429.6h38M756 1410.6v38M655 1489.2h38M674 1470.2v38M783 1489.2h38M802 1470.2v38M796.6 1511.6h38M815.6 1492.6v38M756 1548.6h38M775 1529.6v38M536.4 1504h38M555.4 1485v38M544 1504h38M563 1485v38M572 1496.8h38M591 1477.8v38M593 1511.6h38M612 1492.6v38M566 1519h38M585 1500v38M539 1586h38M558 1567v38M553 1592.6h38M572 1573.6v38M565 1667h38M584 1648v38M586 1711.6h38M605 1692.6v38M637 821h38M656 802v38M639 821h38M658 802v38M764 799h38M783 780v38M806 777h38M825 758v38M797 807h38M816 788v38M816 814h38M835 795v38M843 792h38M862 773v38M845 799h38M864 780v38M861 807h38M880 788v38M866 777h38M885 758v38M850.6 836.4h38M869.6 817.4v38M789 858.6h38M808 839.6v38M614 874h38M633 855v38M617 880h38M636 861v38M633 874h38M652 855v38M677 866h38M696 847v38M688 874h38M707 855v38M683 896h38M702 877v38M687 903h38M706 884v38M679 910h38M698 891v38M687 918h38M706 899v38M688 932.4h38M707 913.4v38M695 940h38M714 921v38M677 954h38M696 935v38M677 970h38M696 951v38M674 985h38M693 966v38M669 985h38M688 966v38M641 985h38M660 966v38M631 985h38M650 966v38M649 1015h38M668 996v38M651 1015h38M670 996v38M604 1021.6h38M623 1002.6v38M721.6 977.4h38M740.6 958.4v38M764.4 1014.6h38M783.4 995.6v38M621 954h38M640 935v38M611 926h38M630 907v38M605 926h38M624 907v38M633 898h38M652 879v38M651 904h38M670 885v38M633 912h38M652 893v38M858 606.6h38M877 587.6v38M883 666h38M902 647v38M809 635h38M828 616v38M807 645h38M826 626v38M809 651h38M828 632v38M813 658h38M832 639v38M810 673h38M829 654v38M770 666h38M789 647v38M848 681h38M867 662v38M863 696h38M882 677v38M851 696h38M870 677v38M841 703h38M860 684v38M853 703h38M872 684v38M841 709h38M860 690v38M825 725h38M844 706v38M887 725h38M906 706v38M790 733h38M809 714v38M795 741h38M814 722v38M808 733h38M827 714v38M827 741h38M846 722v38M839 733h38M858 714v38M851 733h38M870 714v38M869 741h38M888 722v38M740 747h38M759 728v38M733 753h38M752 734v38M1511.8 339.2h38M1530.8 320.2v38M1553.8 405.6h38M1572.8 386.6v38M1770.6 398.8h38M1789.6 379.8v38M1699.8 428h38M1718.8 409v38M1716.2 428h38M1735.2 409v38M1693 442.8h38M1712 423.8v38M1701 442.8h38M1720 423.8v38M1717.8 472.8h38M1736.8 453.8v38M1631.8 472.8h38M1650.8 453.8v38M1599.8 479.6h38M1618.8 460.6v38M1554.2 487.6h38M1573.2 468.6v38M1487.4 494.8h38M1506.4 475.8v38M1469 502h38M1488 483v38M1840.2 472.8h38M1859.2 453.8v38M1783 487.6h38M1802 468.6v38M1785.8 502h38M1804.8 483v38M1817 494.8h38M1836 475.8v38M1681 509.6h38M1700 490.6v38M1719 509.6h38M1738 490.6v38M1877 524.4h38M1896 505.4v38M1885 524.4h38M1904 505.4v38M1509.8 524.4h38M1528.8 505.4v38M1528.2 524.4h38M1547.2 505.4v38M1443 539.2h38M1462 520.2v38M1533.8 546.4h38M1552.8 527.4v38M1565 554.4h38M1584 535.4v38M1494.6 561.6h38M1513.6 542.6v38M1695.8 540h38M1714.8 521v38M1677 568.8h38M1696 549.8v38M1482.2 584h38M1501.2 565v38M1393 584h38M1412 565v38M1326.2 591.2h38M1345.2 572.2v38M1247.8 591.2h38M1266.8 572.2v38M1507.8 598.8h38M1526.8 579.8v38M1471 613.6h38M1490 594.6v38M1651.8 591.2h38M1670.8 572.2v38M1663 591.2h38M1682 572.2v38M1566.2 628.4h38M1585.2 609.4v38M1597.8 628.4h38M1616.8 609.4v38M1623.8 628.4h38M1642.8 609.4v38M1633.8 634h38M1652.8 615v38M1645.4 628.4h38M1664.4 609.4v38M1709 620.8h38M1728 601.8v38M1750.2 635.6h38M1769.2 616.6v38M1827 576.8h38M1846 557.8v38M1865 591.2h38M1884 572.2v38M1890.2 584h38M1909.2 565v38M1800.2 598.8h38M1819.2 579.8v38M1925 584h38M1944 565v38M1927 546.4h38M1946 527.4v38M1857 650.8h38M1876 631.8v38M1891 650.8h38M1910 631.8v38M1913 643.2h38M1932 624.2v38M1665.8 687.6h38M1684.8 668.6v38M1749.8 687.6h38M1768.8 668.6v38M1821.8 680.4h38M1840.8 661.4v38M1821.8 710h38M1840.8 691v38M1867.8 702.4h38M1886.8 683.4v38M1898.6 710h38M1917.6 691v38M1769 717.6h38M1788 698.6v38M1841 746.8h38M1860 727.8v38M1829.8 754.4h38M1848.8 735.4v38M1659 762h38M1678 743v38M1739 762h38M1758 743v38M1579.8 776.8h38M1598.8 757.8v38M1797 776.8h38M1816 757.8v38M1809 791.6h38M1828 772.6v38M1845.8 798.8h38M1864.8 779.8v38M1745 806.4h38M1764 787.4v38M1809 822h38M1828 803v38M1383.8 798.8h38M1402.8 779.8v38M1189 828.8h38M1208 809.8v38M1135.8 873.2h38M1154.8 854.2v38M1841 895.6h38M1860 876.6v38M1437 947.6h38M1456 928.6v38M1401 970h38M1420 951v38M1489.8 970h38M1508.8 951v38M1174.2 688h38M1193.2 669v38M1206.6 680.4h38M1225.6 661.4v38M1306.2 398.8h38M1325.2 379.8v38M1319 436h38M1338 417v38M1117 450.8h38M1136 431.8v38M1154.2 442.8h38M1173.2 423.8v38M1180.2 450.8h38M1199.2 431.8v38M1183.4 450.8h38M1202.4 431.8v38M1212.2 480h38M1231.2 461v38M1237.8 502h38M1256.8 483v38M1155.8 540h38M1174.8 521v38M1219 546.4h38M1238 527.4v38M2035 435.6h38M2054 416.6v38M1997 465.6h38M2016 446.6v38M1947 502.4h38M1966 483.4v38M1973 517.2h38M1992 498.2v38M1975 524.4h38M1994 505.4v38M2025.8 546.8h38M2044.8 527.8v38M1969 554.4h38M1988 535.4v38M1971 569.2h38M1990 550.2v38M1940.2 561.6h38M1959.2 542.6v38M2107.8 591.2h38M2126.8 572.2v38M2037 613.6h38M2056 594.6v38M2013.8 620.8h38M2032.8 601.8v38M2001 628h38M2020 609v38M1979.8 635.6h38M1998.8 616.6v38M1965 643.2h38M1984 624.2v38M2085.8 650.8h38M2104.8 631.8v38M2119.8 650.8h38M2138.8 631.8v38M2143 680.4h38M2162 661.4v38M2081 695.2h38M2100 676.2v38M2027.8 702.4h38M2046.8 683.4v38M2002.2 710h38M2021.2 691v38M1971 710h38M1990 691v38M1948.2 702.4h38M1967.2 683.4v38M1950.6 702.4h38M1969.6 683.4v38M2211.8 724.8h38M2230.8 705.8v38M1985 747.2h38M2004 728.2v38M2065 732h38M2084 713v38M2057 754.4h38M2076 735.4v38M2067 747.2h38M2086 728.2v38M2069 754.4h38M2088 735.4v38M2085.8 762h38M2104.8 743v38M2103 754.4h38M2122 735.4v38M2113 747.2h38M2132 728.2v38M2121 776.8h38M2140 757.8v38M2019 791.6h38M2038 772.6v38M2032.2 791.6h38M2051.2 772.6v38M2225 895.6h38M2244 876.6v38M1068 614h38M1087 595v38M1048 747.4h38M1067 728.4v38M997 488h38M1016 469v38M960 859h38M979 840v38M949 1014.6h38M968 995.6v38M651 918h38M670 899v38M657 921h38M676 902v38" stroke="#f00"/>
<path d="M565.8 1075.5a6.6 6.6 0 1 0 13.2 0a6.6 6.6 0 1 0 -13.2 0M575.5 1051.6a6.6 6.6 0 1 0 13.2 0a6.6 6.6 0 1 0 -13.2 0M585.2 1028a6.6 6.6 0 1 0 13.2 0a6.6 6.6 0 1 0 -13.2 0M594.9 1004.8a6.6 6.6 0 1 0 13.2 0a6.6 6.6 0 1 0 -13.2 0M604.6 981.9a6.6 6.6 0 1 0 13.2 0a6.6 6.6 0 1 0 -13.2 0M614.3 959.5a6.6 6.6 0 1 0 13.2 0a6.6 6.6 0 1 0 -13.2 0M624 937.4a6.6 6.6 0 1 0 13.2 0a6.6 6.6 0 1 0 -13.2 0M633.6 915.7a6.6 6.6 0 1 0 13.2 0a6.6 6.6 0 1 0 -13.2 0M643.3 894.3a6.6 6.6 0 1 0 13.2 0a6.6 6.6 0 1 0 -13.2 0M653 873.4a6.6 6.6 0 1 0 13.2 0a6.6 6.6 0 1 0 -13.2 0M662.7 852.8a6.6 6.6 0 1 0 13.2 0a6.6 6.6 0 1 0 -13.2 0M672.4 832.6a6.6 6.6 0 1 0 13.2 0a6.6 6.6 0 1 0 -13.2 0M682.1 812.7a6.6 6.6 0 1 0 13.2 0a6.6 6.6 0 1 0 -13.2 0M691.8 793.2a6.6 6.6 0 1 0 13.2 0a6.6 6.6 0 1 0 -13.2 0M701.5 774.1a6.6 6.6 0 1 0 13.2 0a6.6 6.6 0 1 0 -13.2 0M711.2 755.4a6.6 6.6 0 1 0 13.2 0a6.6 6.6 0 1 0 -13.2 0M720.9 737.1a6.6 6.6 0 1 0 13.2 0a6.6 6.6 0 1 0 -13.2 0M730.6 719.1a6.6 6.6 0 1 0 13.2 0a6.6 6.6 0 1 0 -13.2 0M740.3 701.5a6.6 6.6 0 1 0 13.2 0a6.6 6.6 0 1 0 -13.2 0M749.9 684.3a6.6 6.6 0 1 0 13.2 0a6.6 6.6 0 1 0 -13.2 0M759.6 667.4a6.6 6.6 0 1 0 13.2 0a6.6 6.6 0 1 0 -13.2 0M769.3 651a6.6 6.6 0 1 0 13.2 0a6.6 6.6 0 1 0 -13.2 0M779 634.9a6.6 6.6 0 1 0 13.2 0a6.6 6.6 0 1 0 -13.2 0M788.7 619.1a6.6 6.6 0 1 0 13.2 0a6.6 6.6 0 1 0 -13.2 0M798.4 603.8a6.6 6.6 0 1 0 13.2 0a6.6 6.6 0 1 0 -13.2 0M808.1 588.8a6.6 6.6 0 1 0 13.2 0a6.6 6.6 0 1 0 -13.2 0M817.8 574.2a6.6 6.6 0 1 0 13.2 0a6.6 6.6 0 1 0 -13.2 0M827.5 560a6.6 6.6 0 1 0 13.2 0a6.6 6.6 0 1 0 -13.2 0M837.2 546.1a6.6 6.6 0 1 0 13.2 0a6.6 6.6 0 1 0 -13.2 0M846.9 532.6a6.6 6.6 0 1 0 13.2 0a6.6 6.6 0 1 0 -13.2 0M856.6 519.5a6.6 6.6 0 1 0 13.2 0a6.6 6.6 0 1 0 -13.2 0M866.3 506.8a6.6 6.6 0 1 0 13.2 0a6.6 6.6 0 1 0 -13.2 0M875.9 494.4a6.6 6.6 0 1 0 13.2 0a6.6 6.6 0 1 0 -13.2 0M885.6 482.4a6.6 6.6 0 1 0 13.2 0a6.6 6.6 0 1 0 -13.2 0M895.3 470.8a6.6 6.6 0 1 0 13.2 0a6.6 6.6 0 1 0 -13.2 0M905 459.6a6.6 6.6 0 1 0 13.2 0a6.6 6.6 0 1 0 -13.2 0M914.7 448.7a6.6 6.6 0 1 0 13.2 0a6.6 6.6 0 1 0 -13.2 0M924.4 438.2a6.6 6.6 0 1 0 13.2 0a6.6 6.6 0 1 0 -13.2 0M934.1 428.1a6.6 6.6 0 1 0 13.2 0a6.6 6.6 0 1 0 -13.2 0M943.8 418.4a6.6 6.6 0 1 0 13.2 0a6.6 6.6 0 1 0 -13.2 0M953.5 409a6.6 6.6 0 1 0 13.2 0a6.6 6.6 0 1 0 -13.2 0M963.2 400a6.6 6.6 0 1 0 13.2 0a6.6 6.6 0 1 0 -13.2 0M972.9 391.4a6.6 6.6 0 1 0 13.2 0a6.6 6.6 0 1 0 -13.2 0M982.6 383.1a6.6 6.6 0 1 0 13.2 0a6.6 6.6 0 1 0 -13.2 0M992.2 375.3a6.6 6.6 0 1 0 13.2 0a6.6 6.6 0 1 0 -13.2 0M1001.9 367.8a6.6 6.6 0 1 0 13.2 0a6.6 6.6 0 1 0 -13.2 0M1011.6 360.7a6.6 6.6 0 1 0 13.2 0a6.6 6.6 0 1 0 -13.2 0M1021.3 353.9a6.6 6.6 0 1 0 13.2 0a6.6 6.6 0 1 0 -13.2 0M1031 347.5a6.6 6.6 0 1 0 13.2 0a6.6 6.6 0 1 0 -13.2 0M1040.7 341.5a6.6 6.6 0 1 0 13.2 0a6.6 6.6 0 1 0 -13.2 0M1050.4 335.9a6.6 6.6 0 1 0 13.2 0a6.6 6.6 0 1 0 -13.2 0" fill="#0f0" stroke="none"/>
<path d="M581.3 1027a18.7 18.7 0 1 0 37.4 0a18.7 18.7 0 1 0 -37.4 0M596.9 992.1a18.7 18.7 0 1 0 37.4 0a18.7 18.7 0 1 0 -37.4 0M612.5 958.1a18.7 18.7 0 1 0 37.4 0a18.7 18.7 0 1 0 -37.4 0M628.1 925.1a18.7 18.7 0 1 0 37.4 0a18.7 18.7 0 1 0 -37.4 0M643.7 893.1a18.7 18.7 0 1 0 37.4 0a18.7 18.7 0 1 0 -37.4 0M659.3 862a18.7 18.7 0 1 0 37.4 0a18.7 18.7 0 1 0 -37.4 0M675 832a18.7 18.7 0 1 0 37.4 0a18.7 18.7 0 1 0 -37.4 0M690.6 802.9a18.7 18.7 0 1 0 37.4 0a18.7 18.7 0 1 0 -37.4 0M706.2 774.7a18.7 18.7 0 1 0 37.4 0a18.7 18.7 0 1 0 -37.4 0M721.8 747.6a18.7 18.7 0 1 0 37.4 0a18.7 18.7 0 1 0 -37.4 0M737.4 721.4a18.7 18.7 0 1 0 37.4 0a18.7 18.7 0 1 0 -37.4 0M753 696.2a18.7 18.7 0 1 0 37.4 0a18.7 18.7 0 1 0 -37.4 0M768.6 672a18.7 18.7 0 1 0 37.4 0a18.7 18.7 0 1 0 -37.4 0M784.2 648.7a18.7 18.7 0 1 0 37.4 0a18.7 18.7 0 1 0 -37.4 0M799.8 626.4a18.7 18.7 0 1 0 37.4 0a18.7 18.7 0 1 0 -37.4 0M815.4 605.1a18.7 18.7 0 1 0 37.4 0a18.7 18.7 0 1 0 -37.4 0M831.1 584.8a18.7 18.7 0 1 0 37.4 0a18.7 18.7 0 1 0 -37.4 0M846.7 565.4a18.7 18.7 0 1 0 37.4 0a18.7 18.7 0 1 0 -37.4 0M862.3 547a18.7 18.7 0 1 0 37.4 0a18.7 18.7 0 1 0 -37.4 0M877.9 529.6a18.7 18.7 0 1 0 37.4 0a18.7 18.7 0 1 0 -37.4 0M893.5 513.2a18.7 18.7 0 1 0 37.4 0a18.7 18.7 0 1 0 -37.4 0M909.1 497.7a18.7 18.7 0 1 0 37.4 0a18.7 18.7 0 1 0 -37.4 0M924.7 483.2a18.7 18.7 0 1 0 37.4 0a18.7 18.7 0 1 0 -37.4 0M940.3 469.7a18.7 18.7 0 1 0 37.4 0a18.7 18.7 0 1 0 -37.4 0M955.9 457.2a18.7 18.7 0 1 0 37.4 0a18.7 18.7 0 1 0 -37.4 0M971.5 445.6a18.7 18.7 0 1 0 37.4 0a18.7 18.7 0 1 0 -37.4 0M987.2 435a18.7 18.7 0 1 0 37.4 0a18.7 18.7 0 1 0 -37.4 0M1002.8 425.4a18.7 18.7 0 1 0 37.4 0a18.7 18.7 0 1 0 -37.4 0M1018.4 416.7a18.7 18.7 0 1 0 37.4 0a18.7 18.7 0 1 0 -37.4 0M1034 409.1a18.7 18.7 0 1 0 37.4 0a18.7 18.7 0 1 0 -37.4 0M1049.6 402.4a18.7 18.7 0 1 0 37.4 0a18.7 18.7 0 1 0 -37.4 0M1065.2 396.6a18.7 18.7 0 1 0 37.4 0a18.7 18.7 0 1 0 -37.4 0M1080.8 391.9a18.7 18.7 0 1 0 37.4 0a18.7 18.7 0 1 0 -37.4 0M1096.4 388.1a18.7 18.7 0 1 0 37.4 0a18.7 18.7 0 1 0 -37.4 0M1112 385.3a18.7 18.7 0 1 0 37.4 0a18.7 18.7 0 1 0 -37.4 0M1127.6 383.5a18.7 18.7 0 1 0 37.4 0a18.7 18.7 0 1 0 -37.4 0M1143.3 382.6a18.7 18.7 0 1 0 37.4 0a18.7 18.7 0 1 0 -37.4 0M1158.9 382.8a18.7 18.7 0 1 0 37.4 0a18.7 18.7 0 1 0 -37.4 0M1174.5 383.8a18.7 18.7 0 1 0 37.4 0a18.7 18.7 0 1 0 -37.4 0M1190.1 385.9a18.7 18.7 0 1 0 37.4 0a18.7 18.7 0 1 0 -37.4 0M1205.7 389a18.7 18.7 0 1 0 37.4 0a18.7 18.7 0 1 0 -37.4 0M1221.3 393a18.7 18.7 0 1 0 37.4 0a18.7 18.7 0 1 0 -37.4 0M1236.9 398a18.7 18.7 0 1 0 37.4 0a18.7 18.7 0 1 0 -37.4 0M1252.5 403.9a18.7 18.7 0 1 0 37.4 0a18.7 18.7 0 1 0 -37.4 0M1268.1 410.9a18.7 18.7 0 1 0 37.4 0a18.7 18.7 0 1 0 -37.4 0M1283.7 418.8a18.7 18.7 0 1 0 37.4 0a18.7 18.7 0 1 0 -37.4 0M1299.4 427.7a18.7 18.7 0 1 0 37.4 0a18.7 18.7 0 1 0 -37.4 0M1315 437.5a18.7 18.7 0 1 0 37.4 0a18.7 18.7 0 1 0 -37.4 0M1330.6 448.4a18.7 18.7 0 1 0 37.4 0a18.7 18.7 0 1 0 -37.4 0M1346.2 460.2a18.7 18.7 0 1 0 37.4 0a18.7 18.7 0 1 0 -37.4 0M1361.8 473a18.7 18.7 0 1 0 37.4 0a18.7 18.7 0 1 0 -37.4 0" stroke="#0f0" stroke-width="4.3"/>
<path d="M579 962h38M598 943v38M611.9 930.8h38M630.9 911.8v38M644.8 900.9h38M663.8 881.9v38M677.7 872.1h38M696.7 853.1v38M710.6 844.4h38M729.6 825.4v38M743.6 817.9h38M762.6 798.9v38M776.5 792.6h38M795.5 773.6v38M809.4 768.4h38M828.4 749.4v38M842.3 745.4h38M861.3 726.4v38M875.2 723.5h38M894.2 704.5v38M908.1 702.8h38M927.1 683.8v38M941 683.2h38M960 664.2v38M973.9 664.9h38M992.9 645.9v38M1006.9 647.6h38M1025.9 628.6v38M1039.8 631.6h38M1058.8 612.6v38M1072.7 616.6h38M1091.7 597.6v38M1105.6 602.9h38M1124.6 583.9v38M1138.5 590.3h38M1157.5 571.3v38M1171.4 578.8h38M1190.4 559.8v38M1204.3 568.6h38M1223.3 549.6v38M1237.2 559.4h38M1256.2 540.4v38M1270.2 551.5h38M1289.2 532.5v38M1303.1 544.7h38M1322.1 525.7v38M1336 539h38M1355 520v38M1368.9 534.5h38M1387.9 515.5v38M1401.8 531.2h38M1420.8 512.2v38M1434.7 529h38M1453.7 510v38M1467.6 528h38M1486.6 509v38M1500.5 528.1h38M1519.5 509.1v38M1533.4 529.4h38M1552.4 510.4v38M1566.4 531.9h38M1585.4 512.9v38M1599.3 535.5h38M1618.3 516.5v38M1632.2 540.3h38M1651.2 521.3v38M1665.1 546.2h38M1684.1 527.2v38M1698 553.3h38M1717 534.3v38M1730.9 561.5h38M1749.9 542.5v38M1763.8 570.9h38M1782.8 551.9v38M1796.7 581.5h38M1815.7 562.5v38M1829.7 593.2h38M1848.7 574.2v38M1862.6 606.1h38M1881.6 587.1v38M1895.5 620.1h38M1914.5 601.1v38M1928.4 635.3h38M1947.4 616.3v38M1961.3 651.7h38M1980.3 632.7v38M1994.2 669.2h38M2013.2 650.2v38M2027.1 687.9h38M2046.1 668.9v38M2060 707.7h38M2079 688.7v38M2093 728.7h38M2112 709.7v38M2125.9 750.8h38M2144.9 731.8v38M2158.8 774.1h38M2177.8 755.1v38M2191.7 798.6h38M2210.7 779.6v38M2224.6 824.2h38M2243.6 805.2v38" stroke="#0f0"/>
<path d="M280 122V1727H2313M280 1727v-22M570 1727v-22M860 1727v-22M1150 1727v-22M1441 1727v-22M1731 1727v-22M2021 1727v-22M2311 1727v-22M280 1727h22M280 1527h22M280 1326h22M280 1126h22M280 926h22M280 725h22M280 525h22M280 325h22M280 124h22" stroke="#262626" stroke-linejoin="miter" stroke-linecap="butt"/>
<rect x="1693" y="1203" width="572" height="477" fill="#fff" stroke="#262626"/>
<path d="M1799 1250.3a7 7 0 1 0 14 0a7 7 0 1 0 -14 0" fill="#000" stroke="none"/>
<path d="M1787.3 1326.5a18.7 18.7 0 1 0 37.4 0a18.7 18.7 0 1 0 -37.4 0" stroke="#00f" stroke-width="4.3"/>
<path d="M1787 1403.3h38M1806 1384.3v38" stroke="#f00"/>
<path d="M1799 1480.1a7 7 0 1 0 14 0a7 7 0 1 0 -14 0" fill="#0f0" stroke="none"/>
<path d="M1787.3 1556.9a18.7 18.7 0 1 0 37.4 0a18.7 18.7 0 1 0 -37.4 0" stroke="#0f0" stroke-width="4.3"/>
<path d="M1787 1633.7h38M1806 1614.7v38" stroke="#0f0"/>
</g>
<text transform="translate(1915,1271.8) scale(1.005,1)" font-size="55.5" fill="#000" stroke="#000">Observed S1</text>
<text transform="translate(1915,1348) scale(1.005,1)" font-size="55.5" fill="#000" stroke="#000">Observed S2</text>
<text transform="translate(1915,1424.8) scale(1.005,1)" font-size="55.5" fill="#000" stroke="#000">Observed S3</text>
<text transform="translate(1915,1501.6) scale(1.005,1)" font-size="55.5" fill="#000" stroke="#000">Modeled S1</text>
<text transform="translate(1915,1578.4) scale(1.005,1)" font-size="55.5" fill="#000" stroke="#000">Modeled S2</text>
<text transform="translate(1915,1655.2) scale(1.005,1)" font-size="55.5" fill="#000" stroke="#000">Modeled S3</text>
<text transform="translate(278,1815) scale(1.045,1)" font-size="58.5" fill="#262626" stroke="#262626" text-anchor="middle">0.005</text>
<text transform="translate(569.5,1815) scale(1.045,1)" font-size="58.5" fill="#262626" stroke="#262626" text-anchor="middle">0.01</text>
<text transform="translate(858,1815) scale(1.045,1)" font-size="58.5" fill="#262626" stroke="#262626" text-anchor="middle">0.015</text>
<text transform="translate(1149.5,1815) scale(1.045,1)" font-size="58.5" fill="#262626" stroke="#262626" text-anchor="middle">0.02</text>
<text transform="translate(1439,1815) scale(1.045,1)" font-size="58.5" fill="#262626" stroke="#262626" text-anchor="middle">0.025</text>
<text transform="translate(1730.5,1815) scale(1.045,1)" font-size="58.5" fill="#262626" stroke="#262626" text-anchor="middle">0.03</text>
<text transform="translate(2019,1815) scale(1.045,1)" font-size="58.5" fill="#262626" stroke="#262626" text-anchor="middle">0.035</text>
<text transform="translate(2310.5,1815) scale(1.045,1)" font-size="58.5" fill="#262626" stroke="#262626" text-anchor="middle">0.04</text>
<text transform="translate(250.5,1748.5) scale(1.045,1)" font-size="58.5" fill="#262626" stroke="#262626" text-anchor="end">0</text>
<text transform="translate(253.5,1548.5) scale(1.045,1)" font-size="58.5" fill="#262626" stroke="#262626" text-anchor="end">0.02</text>
<text transform="translate(253.5,1347.5) scale(1.045,1)" font-size="58.5" fill="#262626" stroke="#262626" text-anchor="end">0.04</text>
<text transform="translate(253.5,1147.5) scale(1.045,1)" font-size="58.5" fill="#262626" stroke="#262626" text-anchor="end">0.06</text>
<text transform="translate(253.5,947.5) scale(1.045,1)" font-size="58.5" fill="#262626" stroke="#262626" text-anchor="end">0.08</text>
<text transform="translate(253.5,746.5) scale(1.045,1)" font-size="58.5" fill="#262626" stroke="#262626" text-anchor="end">0.1</text>
<text transform="translate(253.5,546.5) scale(1.045,1)" font-size="58.5" fill="#262626" stroke="#262626" text-anchor="end">0.12</text>
<text transform="translate(253.5,346.5) scale(1.045,1)" font-size="58.5" fill="#262626" stroke="#262626" text-anchor="end">0.14</text>
<text transform="translate(253.5,145.5) scale(1.045,1)" font-size="58.5" fill="#262626" stroke="#262626" text-anchor="end">0.16</text>
<text transform="translate(1294.5,1905) scale(1.06,1)" font-size="64.5" fill="#262626" stroke="#262626" text-anchor="middle">Network density (veh/m)</text>
<text transform="translate(93.4,924) rotate(-90) scale(1.06,1)" font-size="64.5" fill="#262626" stroke="#262626" text-anchor="middle">Network flow (veh/s)</text>
<text transform="translate(1290.5,91.2) scale(1.015,1)" font-size="66" font-weight="bold" fill="#000" stroke="#000" text-anchor="middle">Experiment 1</text>
</svg></body></html>
